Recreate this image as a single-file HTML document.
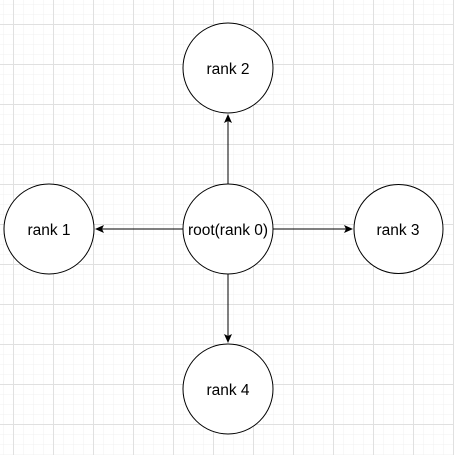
<!DOCTYPE html><html><head><style>
html,body{margin:0;padding:0;background:#fff}
</style></head><body>
<svg width="454" height="455" xmlns="http://www.w3.org/2000/svg" font-family="Liberation Sans, Arial, sans-serif" font-size="15.5">
<defs>
<pattern id="mn" x="3" y="4" width="10" height="10" patternUnits="userSpaceOnUse"><path d="M0 0H10M0 0V10" stroke="#f0f0f0" stroke-width="1" fill="none"/></pattern>
<pattern id="mj" x="13" y="24" width="40" height="40" patternUnits="userSpaceOnUse"><path d="M0 0.5H40M0.5 0V40" stroke="#e0e0e0" stroke-width="1" fill="none"/></pattern>
<marker id="a" markerWidth="10" markerHeight="10" refX="8" refY="4" orient="auto" markerUnits="userSpaceOnUse"><path d="M0 0L9 4L0 8L2 4Z" fill="#000"/></marker>
</defs>
<rect width="454" height="455" fill="url(#mn)"/>
<rect width="454" height="455" fill="url(#mj)"/>
<g stroke="#000" stroke-width="1">
<line x1="228" y1="184" x2="228" y2="115" marker-end="url(#a)"/>
<line x1="228" y1="274" x2="228" y2="342" marker-end="url(#a)"/>
<line x1="183" y1="229" x2="96" y2="229" marker-end="url(#a)"/>
<line x1="273" y1="229" x2="352" y2="229" marker-end="url(#a)"/>
</g>
<g fill="#fff" stroke="#000" stroke-width="1">
<circle cx="228" cy="229" r="45"/>
<circle cx="228" cy="68" r="45"/>
<circle cx="49" cy="229" r="45"/>
<circle cx="398.5" cy="229" r="44.5"/>
<circle cx="228" cy="389" r="45"/>
</g>
<g text-anchor="middle" fill="#000">
<text x="228" y="235">root(rank 0)</text>
<text x="228" y="74">rank 2</text>
<text x="49" y="235">rank 1</text>
<text x="398" y="235">rank 3</text>
<text x="228" y="395">rank 4</text>
</g>
</svg>
</body></html>
